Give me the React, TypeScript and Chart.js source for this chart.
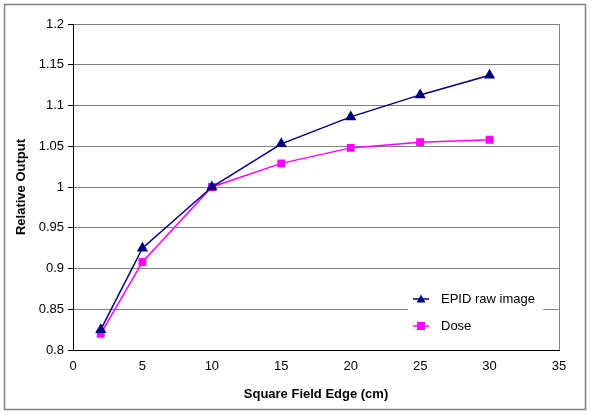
import React, { useEffect, useRef } from "react";
import { Chart, registerables } from "chart.js";

Chart.register(...registerables);

const fieldSizes = [2, 5, 10, 15, 20, 25, 30];
const epidValues = [0.825, 0.925, 1.0, 1.053, 1.086, 1.113, 1.137];
const doseValues = [0.82, 0.908, 1.0, 1.029, 1.048, 1.055, 1.058];
const seriesNames = ["EPID raw image", "Dose"];
const xTitle = "Square Field Edge (cm)";
const yTitle = "Relative Output";

const FONT = "'Liberation Sans', Arial, sans-serif";

const framePlugin = {
  id: "frame",
  beforeDraw(chart: any) {
    const ctx = chart.ctx;
    ctx.save();
    ctx.fillStyle = "#ffffff";
    ctx.fillRect(0, 0, chart.width, chart.height);
    ctx.strokeStyle = "#808080";
    ctx.lineWidth = 1.5;
    ctx.strokeRect(4.5, 4.5, 581, 405);
    ctx.restore();
  },
  afterDatasetsDraw(chart: any) {
    const ctx = chart.ctx;
    const a = chart.chartArea;
    ctx.save();
    ctx.strokeStyle = "#808080";
    ctx.lineWidth = 1;
    ctx.beginPath();
    ctx.moveTo(a.right + 0.5, a.top);
    ctx.lineTo(a.right + 0.5, a.bottom);
    ctx.stroke();
    const lx = 408, ly = 284, lw = 135, lh = 56;
    ctx.fillStyle = "#ffffff";
    ctx.fillRect(lx, ly, lw, lh);
    const items = chart.data.datasets;
    items.forEach((ds: any, i: number) => {
      const y = 299 + i * 27;
      ctx.strokeStyle = ds.borderColor;
      ctx.lineWidth = 1.5;
      ctx.beginPath();
      ctx.moveTo(413, y);
      ctx.lineTo(429, y);
      ctx.stroke();
      ctx.fillStyle = ds.backgroundColor;
      if (ds.pointStyle === "triangle") {
        ctx.beginPath();
        ctx.moveTo(421, y - 4.5);
        ctx.lineTo(425.5, y + 3.5);
        ctx.lineTo(416.5, y + 3.5);
        ctx.closePath();
        ctx.fill();
      } else {
        ctx.fillRect(417, y - 4, 8, 8);
      }
      ctx.fillStyle = "#000000";
      ctx.font = `13px ${FONT}`;
      ctx.textBaseline = "middle";
      ctx.textAlign = "left";
      ctx.fillText(ds.label, 441, y);
    });
    ctx.restore();
  },
};

export default function App() {
  const ref = useRef<HTMLCanvasElement>(null);
  useEffect(() => {
    if (!ref.current) return;
    const chart = new Chart(ref.current, {
      type: "line",
      data: {
        datasets: [
          {
            label: seriesNames[0],
            data: fieldSizes.map((x, i) => ({ x, y: epidValues[i] })),
            borderColor: "#000080",
            backgroundColor: "#000080",
            pointStyle: "triangle",
            pointRadius: 5,
            borderWidth: 1.5,
            tension: 0,
          },
          {
            label: seriesNames[1],
            data: fieldSizes.map((x, i) => ({ x, y: doseValues[i] })),
            borderColor: "#ff00ff",
            backgroundColor: "#ff00ff",
            pointStyle: "rect",
            pointRadius: 4.5,
            borderWidth: 1.5,
            tension: 0,
          },
        ],
      },
      plugins: [framePlugin],
      options: {
        animation: false,
        responsive: false,
        layout: { padding: { left: 0, right: 41, top: 24, bottom: 0 } },
        plugins: { legend: { display: false }, tooltip: { enabled: false } },
        scales: {
          x: {
            type: "linear",
            min: 0,
            max: 35,
            ticks: { stepSize: 5, color: "#000", font: { family: FONT, size: 13 }, padding: 4 },
            grid: { display: false, drawOnChartArea: false, drawTicks: true, tickLength: 5, color: "#000" },
            border: { color: "#000", width: 1 },
            title: { display: true, text: xTitle, color: "#000", font: { family: FONT, size: 13, weight: "bold" }, padding: { top: 4, bottom: 13 } },
            afterFit(scale: any) { scale.height = 65; },
          },
          y: {
            min: 0.8,
            max: 1.2,
            ticks: {
              stepSize: 0.05,
              color: "#000",
              font: { family: FONT, size: 13 },
              padding: 4,
              callback: (v: any) => String(Math.round(Number(v) * 100) / 100),
            },
            grid: { color: "#808080", lineWidth: 1, drawTicks: true, tickLength: 5, tickColor: "#000" },
            border: { color: "#000", width: 1 },
            title: { display: true, text: yTitle, color: "#000", font: { family: FONT, size: 13, weight: "bold" }, padding: { top: 14, bottom: 4 } },
            afterFit(scale: any) { scale.width = 73; },
          },
        },
      },
    });
    return () => chart.destroy();
  }, []);
  return (
    <div style={{ position: "absolute", left: 0, top: 0, width: 600, height: 415 }}>
      <canvas ref={ref} width={600} height={415} style={{ width: 600, height: 415, display: "block" }} />
    </div>
  );
}
